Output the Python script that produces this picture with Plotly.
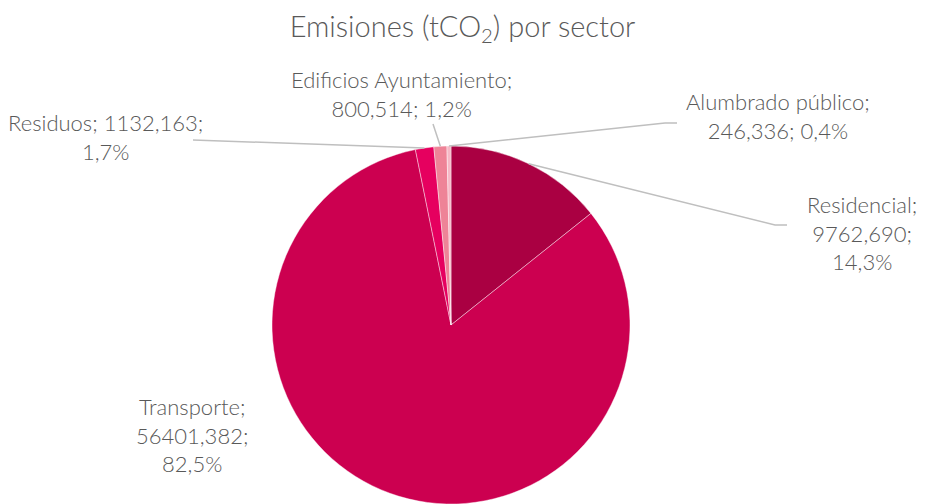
import math
import plotly.graph_objects as go

# ---- data ----
sectors = ["Residencial", "Transporte", "Residuos", "Edificios Ayuntamiento", "Alumbrado público"]
values = [9762.690, 56401.382, 1132.163, 800.514, 246.336]
value_text = ["9762,690", "56401,382", "1132,163", "800,514", "246,336"]
pct_text = ["14,3%", "82,5%", "1,7%", "1,2%", "0,4%"]
colors = ["#AA0042", "#CC0050", "#E6005F", "#EE8397", "#F6B8C6"]

W, H = 925, 504
CX, CY, R = 451, 325, 179
FONT = "Lato"
TXT = "#595959"
LINE = "#BFBFBF"

fig = go.Figure(go.Pie(
    labels=sectors, values=values, sort=False, direction="clockwise", rotation=0,
    textinfo="none", hoverinfo="label+value+percent",
    marker=dict(colors=colors, line=dict(color="rgba(255,255,255,0.6)", width=0.7)),
    domain=dict(x=[(CX - R) / W, (CX + R) / W], y=[(H - CY - R) / H, (H - CY + R) / H]),
    showlegend=False,
))

def px2paper(x, y):
    return x / W, 1 - y / H

# slice mid points on the rim (pixel space), from the data
total = sum(values)
mids = []
acc = 0
for v in values:
    a = (acc + v / 2) / total * 2 * math.pi
    mids.append((CX + R * math.sin(a), CY - R * math.cos(a)))
    acc += v

# label boxes (pixel centres) and leader elbow points
label_pos = {
    "Residencial": (862, 233, "Residencial;<br>{v};<br>{p}"),
    "Transporte": (192, 435, "Transporte;<br>{v};<br>{p}"),
    "Residuos": (105, 137, "Residuos; {v};<br>{p}"),
    "Edificios Ayuntamiento": (401, 94, "Edificios Ayuntamiento;<br>{v}; {p}"),
    "Alumbrado público": (778, 116, "Alumbrado público;<br>{v}; {p}"),
}
leaders = {
    "Residencial": [(775, 225), (787, 225)],
    "Residuos": [(193, 140)],
    "Edificios Ayuntamiento": [(433, 124)],
    "Alumbrado público": [(665, 123), (677, 123)],
}

annotations = []
for i, s in enumerate(sectors):
    x, y, tpl = label_pos[s]
    px, py = px2paper(x, y)
    annotations.append(dict(
        x=px, y=py, xref="paper", yref="paper", showarrow=False,
        text=tpl.format(v=value_text[i], p=pct_text[i]),
        font=dict(family=FONT, size=22, color=TXT, weight=300), align="center",
        xanchor="center", yanchor="middle",
    ))

shapes = []
for i, s in enumerate(sectors):
    if s not in leaders:
        continue
    pts = [mids[i]] + leaders[s]
    path = "M " + " L ".join(f"{px2paper(x, y)[0]},{px2paper(x, y)[1]}" for x, y in pts)
    shapes.append(dict(type="path", xref="paper", yref="paper", path=path,
                       line=dict(color=LINE, width=1.5)))

fig.update_layout(
    width=W, height=H,
    margin=dict(l=0, r=0, t=0, b=0),
    paper_bgcolor="white", plot_bgcolor="white",
    title=dict(text="Emisiones (tCO<sub>2</sub>) por sector", x=0.5, xanchor="center",
               y=1 - 27 / H, yanchor="middle",
               font=dict(family=FONT, size=29, color=TXT, weight=300)),
    annotations=annotations,
    shapes=shapes,
)

fig.write_html("out.html", config={"displayModeBar": False},
               post_script="document.body.style.margin='0';document.body.style.overflow='hidden';")
